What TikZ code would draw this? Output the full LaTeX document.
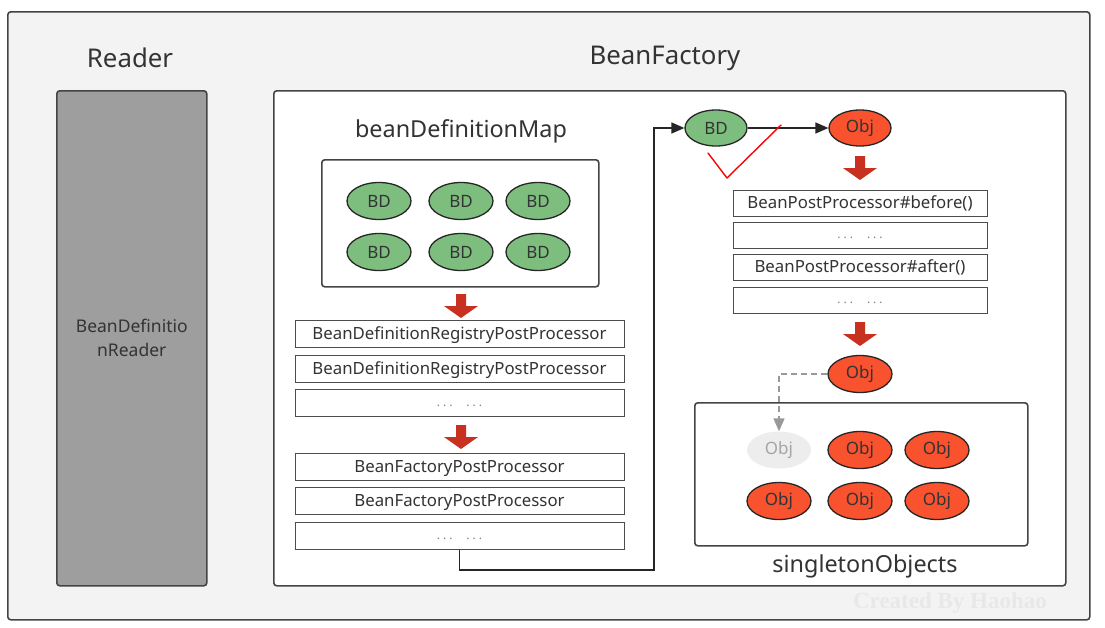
\documentclass[tikz,border=0pt]{standalone}
\usepackage{fontspec}
\setmainfont{Noto Sans}
\newfontfamily\wmfont{Liberation Serif}
\usetikzlibrary{shapes.geometric,arrows.meta}
\definecolor{bgc}{HTML}{F3F3F3}
\definecolor{edge}{HTML}{444444}
\definecolor{readerfill}{HTML}{9E9E9E}
\definecolor{bdgreen}{HTML}{7DBE7F}
\definecolor{objred}{HTML}{F9522F}
\definecolor{fatred}{HTML}{C8301F}
\definecolor{txt}{HTML}{333333}
\tikzset{
  panel/.style={draw=edge, line width=1.6pt, rounded corners=3pt},
  bdnode/.style={ellipse, draw=black!85, line width=1.3pt, fill=bdgreen, minimum width=64pt, minimum height=37pt, inner sep=0pt, text=txt, font=\fontsize{17}{19}\selectfont},
  objnode/.style={ellipse, draw=black!85, line width=1.3pt, fill=objred, minimum width=64pt, minimum height=37pt, inner sep=0pt, text=txt, font=\fontsize{17}{19}\selectfont},
  ghostnode/.style={ellipse, fill=black!7, minimum width=64pt, minimum height=37pt, inner sep=0pt, text=black!35, font=\fontsize{17}{19}\selectfont},
  procbox/.style={draw=black!70, line width=1pt, minimum height=27pt, inner sep=0pt, text height=12.5pt, text depth=1.5pt, text=txt, font=\fontsize{16.8}{18}\selectfont},
  dots/.style={text=black!50, font=\fontsize{12}{12}\selectfont},
  title/.style={text=txt, font=\fontsize{25.8}{30}\selectfont},
  subtitle/.style={text=txt, font=\fontsize{23.4}{27}\selectfont},
  flow/.style={line width=1.5pt, draw=black!85, -{Triangle[length=13pt,width=11pt]}},
}
\newcommand{\fatarrow}[2]{%
  \fill[fatred] (#1-5,#2) -- (#1+5,#2) -- (#1+5,#2+12) -- (#1+17,#2+12) -- (#1,#2+24) -- (#1-17,#2+12) -- (#1-5,#2+12) -- cycle;}
\newcommand{\dotrow}{.\hspace{3pt}.\hspace{3pt}.\hspace{14pt}.\hspace{3pt}.\hspace{3pt}.}
\begin{document}
\begin{tikzpicture}[x=1pt,y=-1pt]
\useasboundingbox (0,0) rectangle (1105,627);
% outer
\node[panel, fill=bgc, minimum width=1082pt, minimum height=608pt, anchor=north west, inner sep=0pt] (outer) at (7,11) {};
\node[title] (readerlbl) at (130,58) {Reader};
\node[title] (bflbl) at (665,58) {BeanFactory};
\node[panel, fill=readerfill, minimum width=150pt, minimum height=495pt, anchor=north west, inner sep=0pt, align=center, text=txt, font=\fontsize{17.5}{24}\selectfont] (reader) at (56,90) {BeanDefinitio\\nReader};
\node[panel, fill=white, minimum width=792pt, minimum height=495pt, anchor=north west, inner sep=0pt] (bf) at (273,90) {};
% bean definition map
\node[subtitle] (bdmlbl) at (461,131) {beanDefinitionMap};
\node[panel, fill=white, minimum width=277pt, minimum height=127pt, anchor=north west, inner sep=0pt] (bdmap) at (321,159) {};
\foreach \x/\n in {379/a,461/b,538/c}{
  \node[bdnode] (bd1\n) at (\x,201) {BD};
  \node[bdnode] (bd2\n) at (\x,252) {BD};
}
\fatarrow{461}{294}
\node[procbox, minimum width=329pt] (rp1) at (459.5,333.5) {BeanDefinitionRegistryPostProcessor};
\node[procbox, minimum width=329pt] (rp2) at (459.5,368.5) {BeanDefinitionRegistryPostProcessor};
\node[procbox, minimum width=329pt] (rp3) at (459.5,402.5) {};
\node[dots] (rp3d) at (459.5,406) {\dotrow};
\fatarrow{461}{425}
\node[procbox, minimum width=329pt] (fp1) at (459.5,466.5) {BeanFactoryPostProcessor};
\node[procbox, minimum width=329pt] (fp2) at (459.5,500.5) {BeanFactoryPostProcessor};
\node[procbox, minimum width=329pt] (fp3) at (459.5,535.5) {};
\node[dots] (fp3d) at (459.5,539) {\dotrow};
% right column
\node[bdnode, minimum width=62pt, minimum height=36pt] (bdtop) at (716,128) {BD};
\node[objnode, minimum width=62pt, minimum height=36pt] (objtop) at (860,128) {Obj};
\coordinate (turn) at (654,570);
\draw[flow] (fp3.south) |- (turn) |- (bdtop.west);
\draw[flow] (bdtop.east) -- (objtop.west);
\draw[red, line width=1.4pt, line cap=round, line join=round] (708,153) -- (727,178) -- (781,125);
\fatarrow{860}{156}
\node[procbox, minimum width=254pt, minimum height=26pt] (bp1) at (860,203) {BeanPostProcessor\#before()};
\node[procbox, minimum width=254pt, minimum height=26pt] (bp2) at (860,235) {};
\node[dots] (bp2d) at (860,238) {\dotrow};
\node[procbox, minimum width=254pt, minimum height=26pt] (bp3) at (860,267) {BeanPostProcessor\#after()};
\node[procbox, minimum width=254pt, minimum height=26pt] (bp4) at (860,300) {};
\node[dots] (bp4d) at (860,303) {\dotrow};
\fatarrow{860}{322}
\node[objnode] (objmid) at (860,374) {Obj};
% singleton objects
\node[panel, fill=white, minimum width=333pt, minimum height=143pt, anchor=north west, inner sep=0pt] (singl) at (694,402) {};
\node[ghostnode] (og) at (779,450) {Obj};
\node[objnode] (o12) at (860,450) {Obj};
\node[objnode] (o13) at (937,450) {Obj};
\node[objnode] (o21) at (779,501) {Obj};
\node[objnode] (o22) at (860,501) {Obj};
\node[objnode] (o23) at (937,501) {Obj};
\draw[black!40, line width=1.5pt, dash pattern=on 6pt off 4pt, -{Triangle[length=13pt,width=11pt]}] (objmid.west) -| (og.north);
\node[subtitle] (singlbl) at (865,566) {singletonObjects};
\node[text=black!9, font=\wmfont\fontsize{23}{26}\selectfont\bfseries] (wm) at (950,603) {Created By Haohao};
\end{tikzpicture}
\end{document}
